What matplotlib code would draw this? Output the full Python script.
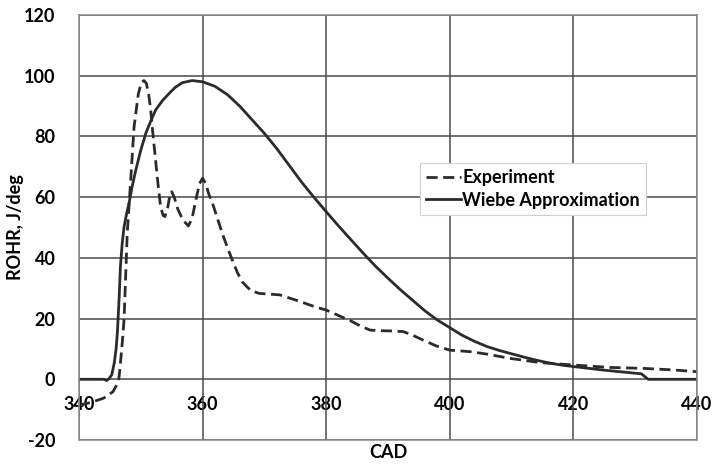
import matplotlib
matplotlib.use("Agg")
import matplotlib.pyplot as plt

# Data
exp_x = [340, 342, 344, 345.5, 346.4, 346.6, 347.0, 347.3, 347.8, 348.4, 348.9, 349.6,
         350.1, 350.5, 350.9, 351.3, 351.6, 352.0, 352.4, 352.8, 353.2, 353.6, 353.9,
         354.3, 354.7, 355.0, 355.4, 356.0, 356.8, 357.7, 358.3, 358.9, 359.5, 360.0,
         360.5, 361.0, 361.6, 362.4, 363.2, 364.0, 364.8, 365.6, 366.4, 367.7, 369.1,
         372.5, 375.8, 378.0, 380.0, 382.0, 383.9, 385.5, 387.1, 389.0, 390.9, 392.5,
         394.0, 395.7, 397.8, 400.0, 403.3, 406.0, 409.7, 414.6, 420.0, 425.9, 431.3,
         436.0, 440.0]
exp_y = [-8.5, -7.6, -6.2, -4.1, -0.8, 3, 12, 20, 48, 66.7, 83, 94,
         97.8, 98.4, 97.5, 93.5, 88.7, 80, 72, 64, 56.9, 54, 53.6,
         56, 60.5, 61.8, 60, 56, 52.5, 50.5, 53, 59, 64.5, 66.2,
         64.5, 61, 58, 53, 48, 43.5, 39.3, 35.3, 32.1, 29.4, 28.3,
         27.8, 25.6, 24.0, 22.8, 21.0, 19.3, 17.6, 16.2, 16.0, 15.9, 15.7,
         14.5, 12.9, 11.0, 9.6, 9.1, 8.3, 6.9, 5.5, 4.7, 3.9, 3.6,
         3.1, 2.5]

wiebe_x = [340, 344.0, 344.5, 344.9, 345.3, 345.7, 346.0, 346.2, 346.5, 346.7, 347.0,
           347.3, 347.7, 348.1, 348.6, 349.2, 350.0, 350.8, 351.6, 352.4, 353.5,
           354.6, 355.6, 356.7, 358.3, 360.0, 362, 364, 366, 368, 370, 372, 374,
           376, 378, 380, 382, 384, 386, 388, 390, 392, 394, 396, 398, 400, 402,
           404, 406, 408, 410, 412, 414, 416, 418, 420, 425, 431.0, 432.1, 440.0]
wiebe_y = [0, 0, -0.4, 0.3, 1.5, 5.3, 10, 15, 27, 37, 45,
           50.3, 54.5, 58, 63.5, 69, 75.5, 81, 85, 88.7, 91.8,
           94.2, 96.2, 97.7, 98.4, 98.0, 96.5, 93.8, 90.0, 85.5, 81, 76, 70.5,
           65, 60, 55.2, 50.5, 46, 41.5, 37.2, 33.3, 29.5, 26, 22.5, 19.5, 17, 14.5,
           12.5, 10.8, 9.5, 8.4, 7.3, 6.3, 5.4, 4.7, 4.2, 3.0, 1.8, 0, 0]

x_ticks = [340, 360, 380, 400, 420, 440]
y_ticks = [-20, 0, 20, 40, 60, 80, 100, 120]

FONT = ["Lato", "DejaVu Sans"]
plt.rcParams["font.family"] = FONT
plt.rcParams["font.weight"] = "bold"
plt.rcParams["axes.unicode_minus"] = False
FS = 13

fig = plt.figure(figsize=(7.13, 4.65), dpi=100)
ax = fig.add_axes([79/713, 1-440/465, (697-79)/713, (440-15)/465])

line_col = "#2b2b2b"
ax.plot(exp_x, exp_y, color=line_col, lw=2.0, linestyle=(0, (4, 2)), label="Experiment")
ax.plot(wiebe_x, wiebe_y, color=line_col, lw=2.0, label="Wiebe Approximation")

ax.set_xlim(340, 440)
ax.set_ylim(-20, 120)
ax.set_yticks(y_ticks)
ax.set_xticks(x_ticks)
ax.grid(True, color="#4a4a4a", lw=1.1)
ax.set_axisbelow(True)
for s in ax.spines.values():
    s.set_color("#8a8a8a")
    s.set_linewidth(1.1)

ax.tick_params(axis="y", length=0, pad=17, labelsize=FS)
ax.tick_params(axis="x", length=0, labelbottom=False)
for lab in ax.get_yticklabels():
    lab.set_fontweight("bold")

# x tick labels sit just under the zero line
sec = ax.secondary_xaxis(20/140)
sec.set_xticks(x_ticks)
sec.tick_params(length=0, pad=12, labelsize=FS)
sec.spines["bottom"].set_visible(False)
for lab in sec.get_xticklabels():
    lab.set_fontweight("bold")

ax.set_xlabel("CAD", fontsize=FS, fontweight="bold", labelpad=3)
fig.text(16/713, 1-227/465, "ROHR, J/deg", rotation=90, ha="center", va="center",
         fontsize=FS, fontweight="bold")

leg = ax.legend(loc="upper left", bbox_to_anchor=((420-79)/618, (440-163)/425),
                frameon=True, fancybox=False, framealpha=1, edgecolor="#d0d0d0",
                prop={"family": FONT, "weight": "bold", "size": FS},
                handlelength=1.9, handletextpad=0.1, borderpad=0.35, labelspacing=0.3,
                borderaxespad=0)
leg.get_frame().set_linewidth(0.8)

fig.savefig("out.png", dpi=100)
